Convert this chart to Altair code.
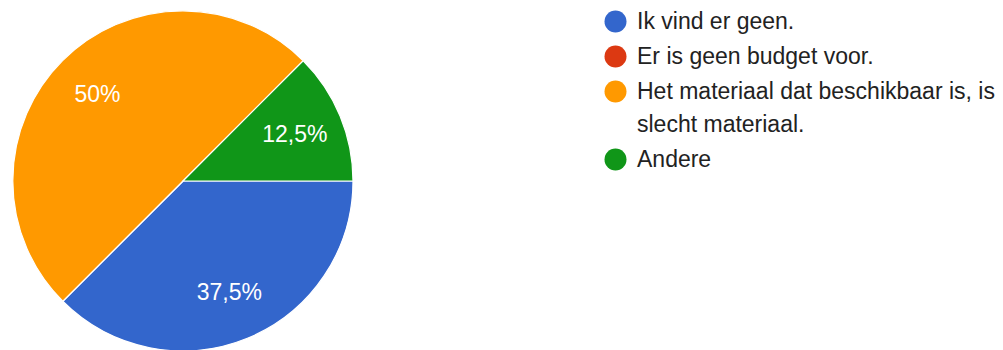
import math
import altair as alt
import pandas as pd

categories = [
    "Ik vind er geen.",
    "Er is geen budget voor.",
    "Het materiaal dat beschikbaar is, is slecht materiaal.",
    "Andere",
]
values = [37.5, 0, 50, 12.5]
labels = ["37,5%", "", "50%", "12,5%"]
colors = ["#3366cc", "#dc3912", "#ff9900", "#109618"]

df = pd.DataFrame({
    "cat": categories,
    "value": values,
    "label": labels,
    "idx": list(range(len(categories))),
})

theta_scale = alt.Scale(range=[math.pi / 2, math.pi / 2 + 2 * math.pi])

base = alt.Chart(df).encode(
    theta=alt.Theta("value:Q", stack=True, scale=theta_scale),
    order=alt.Order("idx:Q"),
    x=alt.value(175),
    y=alt.value(173),
)

arcs = base.mark_arc(radius=170, stroke="white", strokeWidth=1.2).encode(
    color=alt.Color(
        "cat:N",
        sort=categories,
        scale=alt.Scale(domain=categories, range=colors),
        legend=alt.Legend(
            title=None,
            orient="none",
            legendX=596,
            legendY=2,
            symbolType="circle",
            symbolSize=484,
            symbolStrokeWidth=0,
            labelFont="Liberation Sans",
            labelFontSize=23,
            labelColor="#222222",
            labelLimit=600,
            labelOffset=10,
            rowPadding=11,
            labelExpr="length(datum.label) > 40 ? [substring(datum.label, 0, 36), substring(datum.label, 37)] : datum.label",
        ),
    )
)

texts = base.mark_text(
    radius=121, font="Liberation Sans", fontSize=23, color="white"
).encode(text="label:N")

chart = (
    alt.layer(arcs, texts)
    .properties(width=987, height=342, padding=0, autosize=alt.AutoSizeParams(type="none"))
    .configure(
        style={"guide-label": {"lineHeight": 33}},
        view=alt.ViewConfig(stroke=None),
    )
)

chart.save("out.html", embed_options={"renderer": "svg", "actions": False})
